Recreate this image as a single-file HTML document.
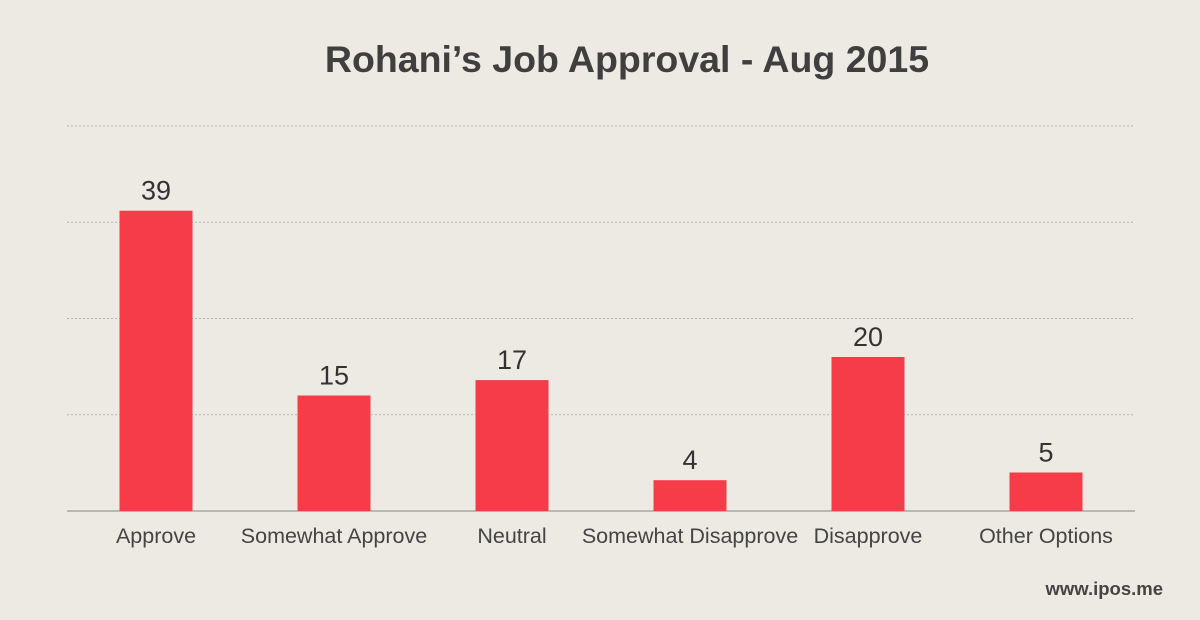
<!DOCTYPE html>
<html><head><meta charset="utf-8"><style>
body{margin:0;background:#edeae4;}
svg{display:block;font-family:"Liberation Sans",Arial,sans-serif;}
</style></head><body>
<svg id="chart" width="1200" height="620">
<rect width="1200" height="620" fill="#edeae4"/>
<text x="627" y="72" text-anchor="middle" font-size="37.5" font-weight="bold" fill="#3f3f3f">Rohani’s Job Approval - Aug 2015</text>
<text x="1163" y="595" text-anchor="end" font-size="18.5" font-weight="bold" fill="#444">www.ipos.me</text>
</svg>
<script>
const categories=["Approve","Somewhat Approve","Neutral","Somewhat Disapprove","Disapprove","Other Options"];
const values=[39,15,17,4,20,5];
const gridTicks=[12.5,25,37.5,50];
const svg=document.getElementById('chart');
const NS='http://www.w3.org/2000/svg';
const left=67,right=1135,base=511,pxPerUnit=7.7;
const band=(right-left)/categories.length,barW=73;
const y=v=>base-v*pxPerUnit;
const x=i=>left+band*(i+0.5);
function mk(t,a){const e=document.createElementNS(NS,t);for(const k in a)e.setAttribute(k,a[k]);svg.appendChild(e);return e;}
gridTicks.forEach(g=>{
 const l=mk('line',{x1:left,x2:right,y1:y(g),y2:y(g),stroke:'#b8b5b0','stroke-dasharray':'2,2','stroke-width':1});
 
 
});
const ax=mk('line',{x1:left,x2:right,y1:base,y2:base,stroke:'#a9a6a1','stroke-width':1.5});


categories.forEach((c,i)=>{
 const r=mk('rect',{x:x(i)-barW/2,y:y(values[i]),width:barW,height:values[i]*pxPerUnit,fill:'#f63c49'});
 
 
 const v=mk('text',{x:x(i),y:y(values[i])-11,'text-anchor':'middle','font-size':27,fill:'#333'});
 v.textContent=values[i];
 
 
 const t=mk('text',{x:x(i),y:543,'text-anchor':'middle','font-size':21.5,fill:'#444'});
 t.textContent=c;
 
 
});
</script>
</body></html>
